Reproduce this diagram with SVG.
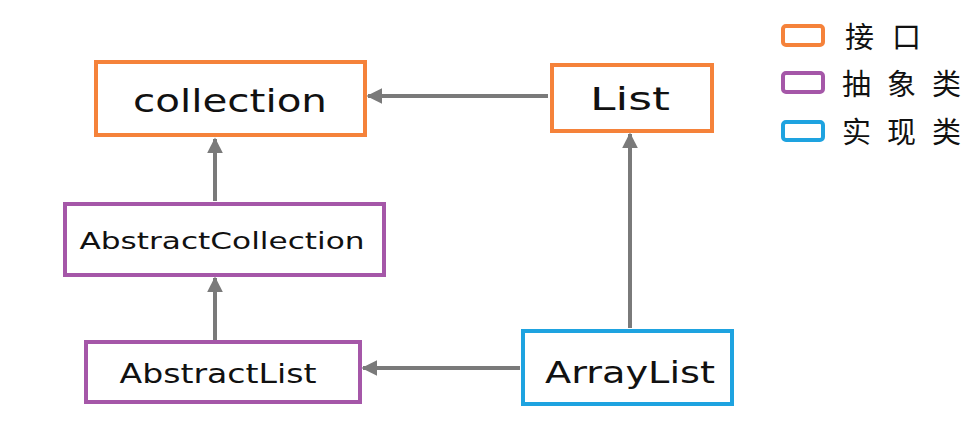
<svg xmlns="http://www.w3.org/2000/svg" width="975" height="432" viewBox="0 0 975 432">
<defs>
<marker id="arr" viewBox="0 0 10 10" refX="9" refY="5" markerWidth="4" markerHeight="4" orient="auto" markerUnits="strokeWidth">
<path d="M0,0 L10,5 L0,10 z" fill="#7a7a7a"/>
</marker>
</defs>
<style>
.box{fill:#fff;stroke-width:4;}
.intf{stroke:#f5823a;}
.abs{stroke:#a557a8;}
.impl{stroke:#1ea3e0;}
.lbl{font-family:"DejaVu Sans","Liberation Sans",sans-serif;fill:#111;text-anchor:middle;}
.cjk{font-family:"Noto Sans CJK SC",sans-serif;fill:#111;font-size:29px;}
.conn{stroke:#7a7a7a;stroke-width:4;fill:none;marker-end:url(#arr);}
</style>
<rect width="975" height="432" fill="#fff"/>
<g id="connectors">
<line class="conn" x1="548" y1="96" x2="368" y2="96"/>
<line class="conn" x1="215" y1="201" x2="215" y2="139"/>
<line class="conn" x1="215" y1="340" x2="215" y2="278"/>
<line class="conn" x1="630" y1="328" x2="630" y2="134"/>
<line class="conn" x1="520" y1="368" x2="363" y2="368"/>
</g>
<g id="collection">
<rect class="box intf" x="96" y="62" width="269" height="73"/>
<text class="lbl" x="230" y="112" font-size="32" textLength="194" lengthAdjust="spacingAndGlyphs">collection</text>
</g>
<g id="List">
<rect class="box intf" x="552" y="65" width="160" height="66"/>
<text class="lbl" x="630" y="110" font-size="32" textLength="80" lengthAdjust="spacingAndGlyphs">List</text>
</g>
<g id="AbstractCollection">
<rect class="box abs" x="65" y="204" width="319" height="71"/>
<text class="lbl" x="222" y="249" font-size="23" textLength="285" lengthAdjust="spacingAndGlyphs">AbstractCollection</text>
</g>
<g id="AbstractList">
<rect class="box abs" x="86" y="342" width="274" height="60"/>
<text class="lbl" x="218" y="383" font-size="26" textLength="197" lengthAdjust="spacingAndGlyphs">AbstractList</text>
</g>
<g id="ArrayList">
<rect class="box impl" x="523" y="331" width="209" height="73"/>
<text class="lbl" x="630" y="383" font-size="31" textLength="170" lengthAdjust="spacingAndGlyphs">ArrayList</text>
</g>
<g id="legend">
<rect class="box intf" x="783" y="26" width="40" height="19" rx="3"/>
<rect class="box abs" x="783" y="73" width="40" height="19" rx="3"/>
<rect class="box impl" x="783" y="122" width="40" height="18" rx="3"/>
<text class="cjk" x="845 892" y="48">接口</text>
<text class="cjk" x="842 887 932" y="95">抽象类</text>
<text class="cjk" x="842 887 932" y="143">实现类</text>
</g>
</svg>
